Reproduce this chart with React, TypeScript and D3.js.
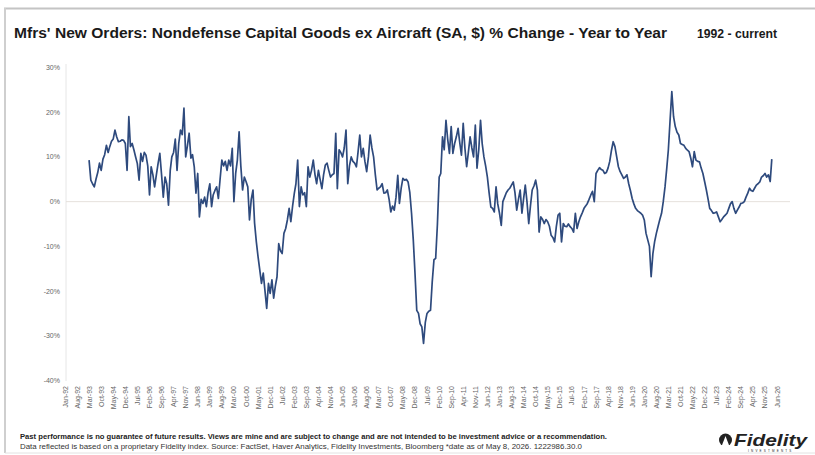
import React from "react";
import * as d3 from "d3";

// ---- Data (YoY % change, monthly, starting Mar-1993) ----
const seriesStart = { year: 1993, month: 2 }; // March 1993 (0-based month)
const v1993 = [9.3, 4.8, 4.0, 3.3, 5.0, 6.5, 8.6, 7.0, 9.5, 10.5];
const v1994 = [12.6, 11.0, 12.3, 13.5, 14.0, 16.0, 14.5, 13.4, 13.5, 13.8, 13.7, 13.0];
const v1995 = [7.0, 19.0, 12.3, 13.0, 11.6, 10.0, 8.5, 4.8, 10.8, 9.0, 11.0, 10.4];
const v1996 = [8.0, 1.5, 7.8, 6.0, 3.3, 6.0, 8.5, 10.8, 6.0, 1.0, 5.5, 4.0];
const v1997 = [-0.8, 7.0, 10.0, 11.0, 14.0, 7.0, 13.0, 16.0, 15.0, 20.9, 10.0, 12.5];
const v1998 = [15.3, 9.7, 10.5, 7.8, 1.9, 6.3, -3.4, 0.5, -0.4, 1.0, -1.1, 2.0];
const v1999 = [4.0, -1.1, 1.5, 2.5, 3.3, 0.7, 5.0, 9.3, 8.0, 9.0, 7.0, 9.3];
const v2000 = [8.0, 11.9, 0.0, 6.3, 9.3, 15.6, 8.0, 2.6, 5.5, 4.5, 3.3, -4.1];
const v2001 = [0.5, 2.6, -4.8, -9.0, -12.3, -15.3, -18.3, -16.0, -20.0, -23.9, -18.3, -20.5];
const v2002 = [-17.5, -21.6, -19.0, -16.8, -9.4, -11.0, -11.6, -7.1, -6.0, -4.1, -1.5, -4.5];
const v2003 = [-1.0, 1.9, 4.0, 9.3, -1.1, 3.3, 1.5, 2.0, -1.1, 7.8, 5.5, 7.0];
const v2004 = [9.3, 6.0, 4.0, 7.0, 5.0, 2.9, 6.0, 8.2, 8.6, 7.0, 5.5, 6.0];
const v2005 = [6.3, 15.3, 2.9, 11.6, 11.0, 10.0, 12.0, 16.0, 4.0, 8.0, 10.0, 9.0];
const v2006 = [8.6, 7.8, 11.0, 14.9, 10.0, 11.9, 9.0, 6.7, 10.0, 14.9, 12.0, 10.0];
const v2007 = [6.0, 2.6, 3.0, 3.3, 4.0, 1.9, 2.0, 2.6, 0.5, -2.3, -1.0, -1.9];
const v2008 = [1.0, 5.9, -0.4, 3.0, 5.2, 4.8, 5.0, 4.4, 2.0, -2.6, -8.6, -16.0];
const v2009 = [-24.3, -25.0, -27.3, -28.0, -31.7, -27.0, -25.0, -24.5, -24.3, -18.0, -13.0, -12.7];
const v2010 = [-5.0, 5.5, 6.3, 14.5, 11.6, 18.2, 14.0, 10.8, 16.8, 10.8, 13.0, 14.5];
const v2011 = [16.4, 13.0, 10.4, 17.5, 12.0, 7.8, 11.0, 14.5, 12.0, 10.0, 17.1, 7.5];
const v2012 = [11.6, 18.2, 13.0, 10.0, 8.0, 5.5, 2.0, -1.2, -1.5, -2.3, 3.3, -0.5];
const v2013 = [-2.6, -5.3, 0.0, 1.0, 2.0, 2.6, 3.0, 3.7, 4.4, 2.0, -1.9, 0.5];
const v2014 = [2.6, -2.6, 0.5, 3.7, 0.0, -4.9, -1.0, 2.6, 3.5, 4.8, 2.6, -6.8];
const v2015 = [-3.4, -4.0, -4.9, -4.0, -4.5, -5.5, -7.5, -8.0, -9.0, -5.6, -3.0, -2.6];
const v2016 = [-9.0, -4.9, -5.5, -5.6, -5.0, -5.6, -6.0, -6.8, -2.6, -6.0, -4.5, -3.4];
const v2017 = [-2.5, -1.5, -1.0, -0.4, 0.5, 1.5, 2.3, 0.0, 6.3, 7.0, 7.6, 7.2];
const v2018 = [7.0, 6.3, 6.5, 7.5, 9.0, 11.5, 13.4, 12.3, 10.0, 7.8, 6.7, 6.0];
const v2019 = [5.2, 5.5, 6.0, 4.0, 2.5, 0.7, -0.5, -1.5, -2.0, -2.3, -2.6, -3.0];
const v2020 = [-4.1, -7.1, -8.5, -10.0, -16.8, -11.6, -9.0, -7.1, -5.5, -4.0, -2.6, 0.0];
const v2021 = [3.3, 7.5, 11.6, 18.3, 24.6, 19.0, 16.8, 15.5, 14.9, 13.0, 12.8, 12.6];
const v2022 = [11.9, 11.5, 11.2, 9.7, 7.8, 11.2, 9.3, 9.0, 8.9, 7.5, 6.3, 4.5];
const v2023 = [2.6, 0.5, -1.5, -2.0, -2.6, -2.5, -2.3, -3.4, -4.5, -4.0, -3.4, -3.0];
const v2024 = [-2.6, -1.5, -0.5, 0.0, -1.5, -2.6, -1.9, -1.2, -0.4, -0.3, 0.0, 1.0];
const v2025 = [1.9, 3.0, 2.5, 2.3, 3.0, 3.7, 4.0, 4.4, 5.5, 5.8, 6.3, 5.5];
const v2026 = [6.0, 4.5, 9.5];

const yTicks = [30, 20, 10, 0, -10, -20, -30, -40];
const axisStart = new Date(1992, 0, 1);
const axisEnd = new Date(2026, 5, 1);
const tickStepMonths = 7;

const title = "Mfrs' New Orders: Nondefense Capital Goods ex Aircraft (SA, $) % Change - Year to Year";
const subtitle = "1992 - current";
const footer1 = "Past performance is no guarantee of future results. Views are mine and are subject to change and are not intended to be investment advice or a recommendation.";
const footer2 = "Data reflected is based on a proprietary Fidelity index. Source: FactSet, Haver Analytics, Fidelity Investments, Bloomberg *date as of May 8, 2026. 1222986.30.0";

const allValues = [
  ...v1993, ...v1994, ...v1995, ...v1996, ...v1997, ...v1998, ...v1999, ...v2000,
  ...v2001, ...v2002, ...v2003, ...v2004, ...v2005, ...v2006, ...v2007, ...v2008,
  ...v2009, ...v2010, ...v2011, ...v2012, ...v2013, ...v2014, ...v2015, ...v2016,
  ...v2017, ...v2018, ...v2019, ...v2020, ...v2021, ...v2022, ...v2023, ...v2024,
  ...v2025, ...v2026,
];

const data = allValues.map((v, i) => ({
  date: new Date(seriesStart.year, seriesStart.month + i, 1),
  value: v,
}));

export default function App() {
  const W = 815;
  const H = 455;
  const x = d3.scaleTime().domain([axisStart, axisEnd]).range([65, 777]);
  const y = d3.scaleLinear().domain([-40, 30]).range([380.5, 67.5]);

  const line = d3
    .line<{ date: Date; value: number }>()
    .x((d) => x(d.date))
    .y((d) => y(d.value))
    .curve(d3.curveLinear);

  const nTicks = d3.timeMonth.count(axisStart, axisEnd);
  const xTicks = d3.range(0, nTicks + 1, tickStepMonths).map((i) => new Date(1992, i, 1));
  const fmt = d3.timeFormat("%b-%y");

  return (
    <svg
      width={W}
      height={H}
      style={{ position: "absolute", left: 0, top: 0, background: "#fff" }}
      fontFamily="'Liberation Sans', Arial, sans-serif"
    >
      <rect x={0} y={0} width={W} height={H} fill="#fff" />
      {/* frame */}
      <line x1={4} x2={W} y1={8.5} y2={8.5} stroke="#c4c4c4" strokeWidth={2} />
      <line x1={5} x2={5} y1={8} y2={453} stroke="#cfcfcf" strokeWidth={2} />
      <line x1={5} x2={W} y1={453} y2={453} stroke="#e2e2e2" strokeWidth={1} />

      {/* title */}
      <text
        x={14}
        y={38}
        fontFamily="'Liberation Sans Narrow', 'Liberation Sans', Arial, sans-serif"
        fontWeight="bold"
        fontSize={14}
        fill="#1a1a1a"
        textLength={653}
        lengthAdjust="spacingAndGlyphs"
      >
        {title}
      </text>
      <text
        x={697}
        y={38}
        fontFamily="'Liberation Sans Narrow', 'Liberation Sans', Arial, sans-serif"
        fontWeight="bold"
        fontSize={12}
        fill="#1a1a1a"
        textLength={80}
        lengthAdjust="spacingAndGlyphs"
      >
        {subtitle}
      </text>

      {/* axis lines */}
      <line x1={66} x2={66} y1={64} y2={381} stroke="#e6e6e6" strokeWidth={1} />
      <line x1={66} x2={790} y1={y(0)} y2={y(0)} stroke="#e6e1dc" strokeWidth={1} />

      {/* y labels */}
      {yTicks.map((t) => (
        <text key={t} x={60} y={y(t) + 2.5} textAnchor="end" fontSize={7} fill="#666">
          {t}%
        </text>
      ))}

      {/* x labels */}
      {xTicks.map((d, i) => (
        <text
          key={i}
          transform={`translate(${x(d) + 2.5},386) rotate(-90)`}
          textAnchor="end"
          fontSize={7}
          fill="#666"
        >
          {fmt(d)}
        </text>
      ))}

      {/* series */}
      <path d={line(data) || ""} fill="none" stroke="#2e4a7d" strokeWidth={1.7} strokeLinejoin="round" />

      {/* footer */}
      <text x={20} y={439} fontSize={6.5} fontWeight="bold" fill="#222" textLength={587} lengthAdjust="spacingAndGlyphs">
        {footer1}
      </text>
      <text x={20} y={448.5} fontSize={6.5} fill="#333" textLength={562} lengthAdjust="spacingAndGlyphs">
        {footer2}
      </text>

      {/* Fidelity logo */}
      <g>
        <circle cx={725.5} cy={440} r={6.5} fill="#222" />
        <path d="M721.5,446.5 L725.5,436 L729.5,446.5 Z" fill="#fff" />
        <rect x={718} y={445.5} width={15} height={2} fill="#fff" />
        <text
          x={734}
          y={446}
          fontSize={17}
          fontWeight="bold"
          fontStyle="italic"
          fill="#222"
          textLength={73}
          lengthAdjust="spacingAndGlyphs"
        >
          Fidelity
        </text>
        <text x={748} y={451.5} fontSize={3} fill="#222" letterSpacing={2.2}>
          INVESTMENTS
        </text>
      </g>
    </svg>
  );
}
